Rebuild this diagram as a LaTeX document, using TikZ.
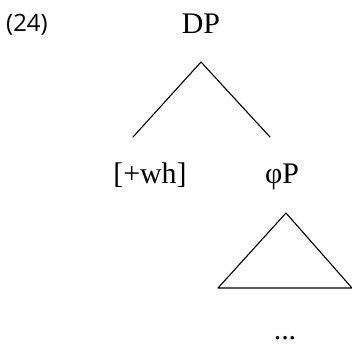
\documentclass[tikz,border=0pt]{standalone}
\usepackage{fontspec}
\setmainfont{Liberation Serif}
\newfontfamily\numfont[Numbers=Lining]{Open Sans}
\begin{document}
\begin{tikzpicture}[x=1bp,y=-1bp,
  lbl/.style={inner sep=0pt,anchor=base,font=\fontsize{30}{30}\selectfont},
  edge/.style={line width=1.1bp,line cap=round,line join=round}]
\useasboundingbox (0,0) rectangle (352,344);
\node[inner sep=0pt,anchor=base west,font=\numfont\fontsize{24}{24}\selectfont] (num) at (6,31) {(24)};
\node[lbl] (dp) at (201,33) {DP};
\node[lbl] (wh) at (150,183) {[+wh]};
\node[lbl] (phip) at (282,183) {φP};
\node[lbl] (dots) at (285,339) {...};
\coordinate (top) at (201,62);
\coordinate (l) at (133,137);
\coordinate (r) at (270,137);
\draw[edge] (l) -- (top) -- (r);
\coordinate (ta) at (286,213);
\coordinate (tl) at (218,288);
\coordinate (tr) at (352,288);
\draw[edge] (tl) -- (ta) -- (tr) -- cycle;
\end{tikzpicture}
\end{document}
